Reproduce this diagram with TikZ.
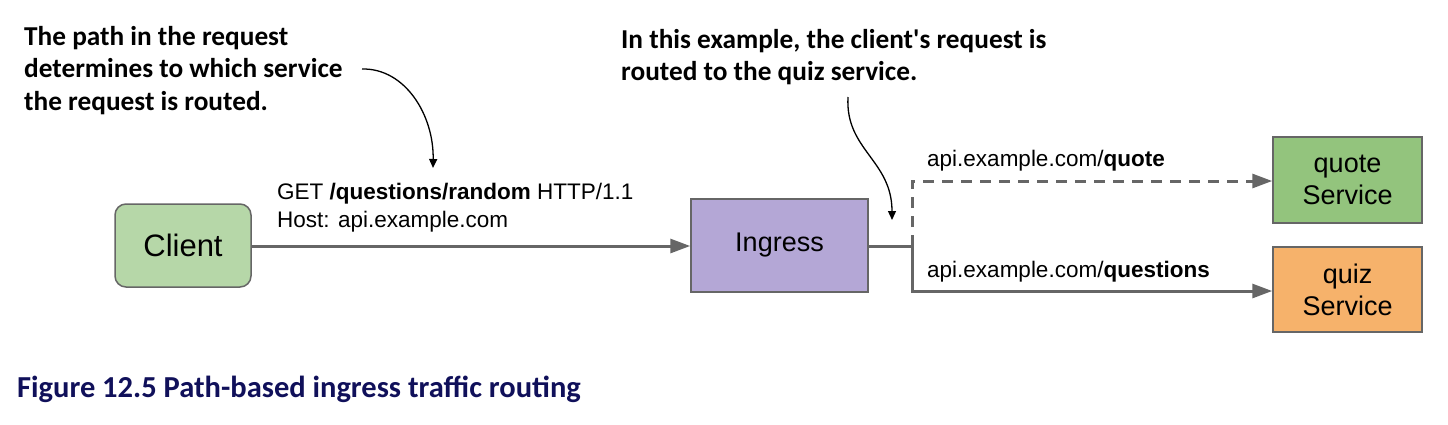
\documentclass[tikz,border=0pt]{standalone}
\usepackage{fontspec}
\setmainfont{Liberation Sans}
\newfontfamily\annfont{Carlito}
\usetikzlibrary{arrows.meta}
\definecolor{boxgreen}{HTML}{B6D7A8}
\definecolor{quotegreen}{HTML}{93C47D}
\definecolor{ingpurple}{HTML}{B4A7D6}
\definecolor{quizorange}{HTML}{F6B26B}
\definecolor{edgegray}{HTML}{666666}
\definecolor{capblue}{HTML}{10105A}
\tikzset{
  box/.style={draw=edgegray, line width=1.5pt, inner sep=0pt, align=center},
  flow/.style={draw=edgegray, line width=3pt, -{Triangle[length=20pt,width=14pt]}},
  ann/.style={font=\annfont\bfseries\fontsize{27.3}{32.5}\selectfont, anchor=base west, inner sep=0pt},
  lbl/.style={font=\fontsize{22.5}{28}\selectfont, anchor=base west, inner sep=0pt},
  callout/.style={draw=black, line width=1.3pt, -{Triangle[length=9pt,width=8pt]}}
}
\begin{document}
\begin{tikzpicture}[x=1pt,y=-1pt]
\useasboundingbox (0,0) rectangle (1448,424);
% boxes
\node[box, rounded corners=11pt, fill=boxgreen, minimum width=136pt, minimum height=83pt, font=\fontsize{31}{33}\selectfont] (client) at (183,245.5) {Client};
\node[box, fill=ingpurple, minimum width=177pt, minimum height=93pt, font=\fontsize{27}{30}\selectfont] (ingress) at (779.5,245.5) {Ingress};
\node[box, fill=quotegreen, minimum width=149pt, minimum height=86pt, font=\fontsize{27}{32}\selectfont] (quote) at (1347.5,180) {quote\\Service};
\node[box, fill=quizorange, minimum width=149pt, minimum height=85pt, font=\fontsize{27}{32}\selectfont] (quiz) at (1347.5,289.5) {quiz\\Service};
% split point
\coordinate (split) at (912,246);
% connectors
\draw[flow] (client.east |- 0,246) -- (ingress.west |- 0,246);
\draw[draw=edgegray, line width=3pt] (ingress.east |- 0,246) -- (split);
\draw[flow, dash pattern=on 11pt off 8pt] (split) |- (quote.west |- 0,181);
\draw[flow] (split) |- (quiz.west |- 0,291);
% labels
\node[lbl] (get) at (277,199) {GET \textbf{/questions/random} HTTP/1.1};
\node[lbl] (host) at (277,227) {Host: api.example.com};
\node[lbl] (lq) at (927,166) {api.example.com/\textbf{quote}};
\node[lbl] (lqs) at (927,277) {api.example.com/\textbf{questions}};
% annotations
\node[ann] (a1l1) at (24,45) {The path in the request};
\node[ann] (a1l2) at (24,77.5) {determines to which service};
\node[ann] (a1l3) at (24,110) {the request is routed.};
\node[ann] (a2l1) at (621,48) {In this example, the client's request is};
\node[ann] (a2l2) at (621,80.5) {routed to the quiz service.};
\coordinate (a1s) at (362,69);
\coordinate (a1e) at (433,168);
\coordinate (a2s) at (848,97);
\coordinate (a2e) at (892,220);
\draw[callout] (a1s) .. controls (405,68) and (434,115) .. (a1e);
\draw[callout] (a2s) .. controls (845,150) and (892,160) .. (a2e);
% caption
\node[font=\annfont\bfseries\fontsize{30.5}{34}\selectfont, text=capblue, anchor=base west, inner sep=0pt] (cap) at (17,397) {Figure 12.5 Path-based ingress traffic routing};
\end{tikzpicture}
\end{document}
